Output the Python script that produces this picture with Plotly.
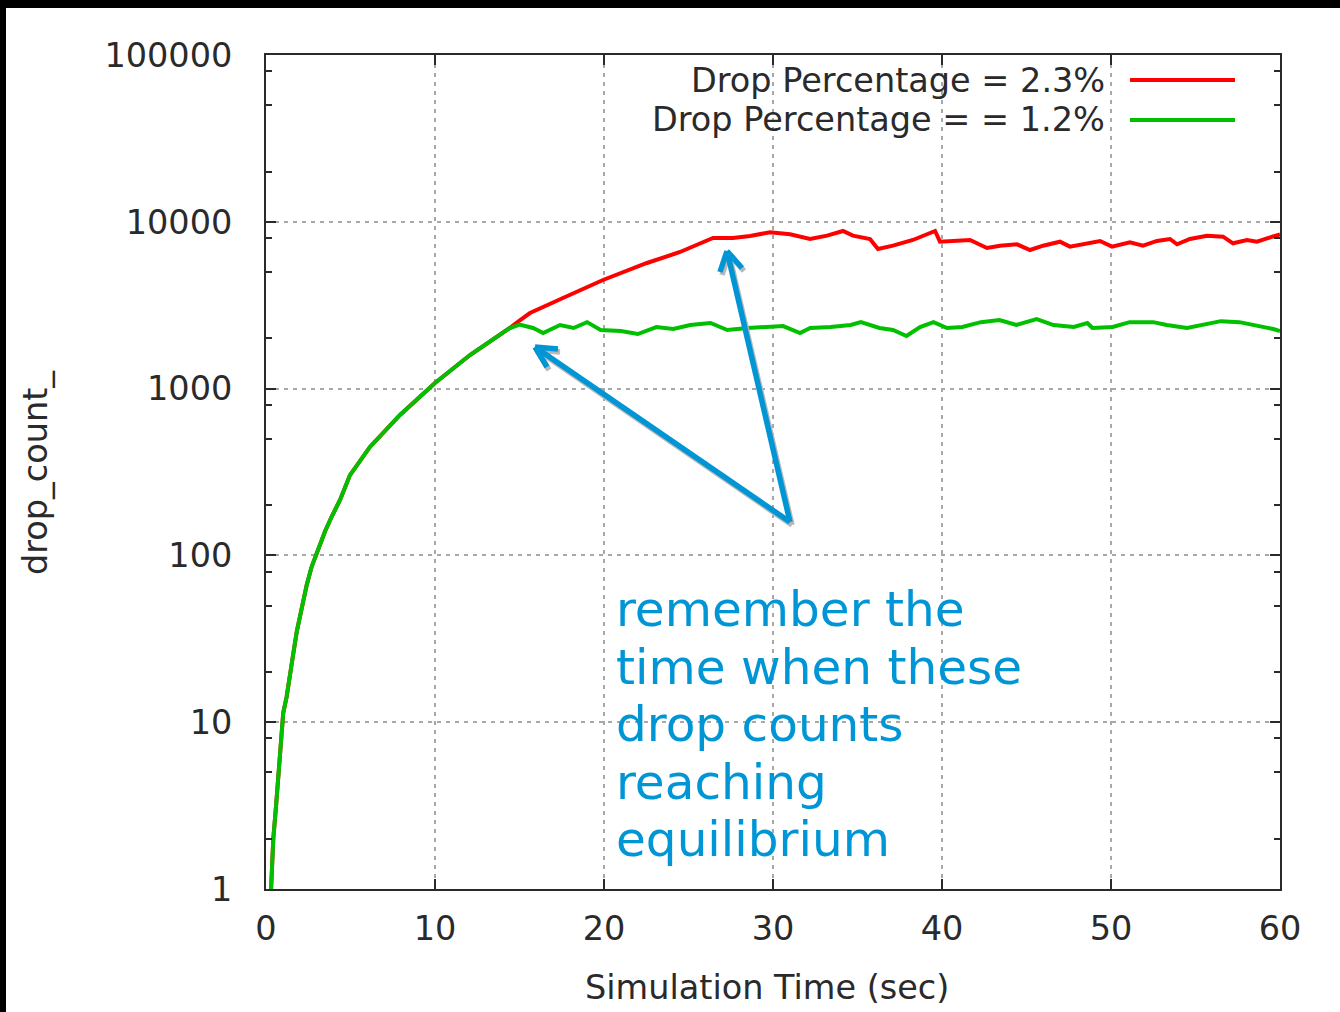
import plotly.graph_objects as go

# ---------------- data ----------------
# shared start: both runs are identical until ~14.4 s
rise_t = [0.3, 0.43, 0.59, 0.73, 0.87, 1.02, 1.22, 1.38, 1.62, 1.82, 2.11, 2.41,
          2.70, 3.09, 3.49, 3.89, 4.38, 4.97, 6.15, 7.93, 10.0, 12.07, 13.85, 14.4]
rise_v = [1.0, 2.0, 3.1, 5.0, 7.1, 11.4, 14.2, 18.7, 26.0, 34.9, 49.2, 66.5,
          85.5, 110, 139, 171, 215, 303, 447, 695, 1080, 1590, 2095, 2300]

red_t = [15.0, 15.62, 17.57, 19.94, 22.54, 24.50, 26.45, 26.86, 27.63, 28.64,
         29.82, 31.01, 32.19, 33.20, 34.14, 34.73, 35.74, 36.21, 37.10, 38.28,
         39.59, 39.88, 41.07, 41.66, 42.66, 43.43, 44.44, 45.21, 45.98, 46.98,
         47.57, 48.76, 49.35, 50.06, 51.12, 51.89, 52.72, 53.49, 53.91, 54.67,
         55.68, 56.63, 57.22, 58.05, 58.64, 59.23, 59.88, 60.0]
red_v = [2560, 2839, 3493, 4478, 5662, 6591, 7998, 8030, 7998, 8222,
         8650, 8413, 7888, 8257, 8810, 8257, 7888, 6871, 7192, 7780,
         8810, 7600, 7675, 7780, 6966, 7192, 7330, 6776, 7192, 7600,
         7095, 7431, 7675, 7095, 7534, 7192, 7675, 7888, 7330, 7888,
         8257, 8142, 7431, 7780, 7600, 7962, 8413, 8400]

green_t = [15.0, 15.8, 16.4, 17.4, 18.2, 19.0, 19.8, 21.0, 22.0, 23.1, 24.1,
           25.1, 26.3, 27.3, 28.5, 29.6, 30.6, 31.6, 32.2, 33.4, 34.6, 35.2,
           36.3, 37.1, 37.9, 38.7, 39.5, 40.3, 41.2, 42.3, 43.4, 44.4, 45.6,
           46.6, 47.8, 48.6, 48.9, 50.1, 51.1, 52.5, 53.3, 54.5, 55.3, 56.5,
           57.6, 58.8, 59.6, 60.0]
green_v = [2420, 2308, 2154, 2405, 2308, 2503, 2245, 2214, 2125, 2340, 2276,
           2405, 2473, 2245, 2308, 2340, 2371, 2154, 2308, 2340, 2405, 2503,
           2308, 2245, 2067, 2340, 2503, 2308, 2340, 2503, 2578, 2405, 2608,
           2405, 2340, 2473, 2308, 2340, 2503, 2503, 2405, 2308, 2405, 2537,
           2503, 2371, 2276, 2214]

series_names = ["Drop Percentage = 2.3%", "Drop Percentage = = 1.2%"]
series_colors = ["#ff0000", "#00c000"]

x_ticks = [0, 10, 20, 30, 40, 50, 60]
y_ticks = [1, 10, 100, 1000, 10000, 100000]
y_ticktext = ["1", "10", "100", "1000", "10000", "100000"]
y_minor = [2, 5, 8, 20, 50, 80, 200, 500, 800, 2000, 5000, 8000, 20000, 50000, 80000]

note_lines = ["remember the", "time when these", "drop counts", "reaching", "equilibrium"]

# ---------------- layout helpers (pixel -> paper) ----------------
L, R, T, B = 266, 1280, 55, 889
W, H = 1340, 1012
def PX(px):
    return (px - L) / (R - L)
def PY(py):
    return (B - py) / (B - T)

FONT = "DejaVu Sans"
TXT = "#2a2a2a"
BLUE = "#0096d6"
FS = 33.5

fig = go.Figure()
fig.add_trace(go.Scatter(x=rise_t + red_t, y=rise_v + red_v, mode="lines",
                         name=series_names[0], showlegend=False,
                         line=dict(color=series_colors[0], width=4)))
fig.add_trace(go.Scatter(x=rise_t + green_t, y=rise_v + green_v, mode="lines",
                         name=series_names[1], showlegend=False,
                         line=dict(color=series_colors[1], width=4)))

shapes = []
annotations = []

# key box (hides grid behind the key, like gnuplot)
shapes.append(dict(type="rect", xref="paper", yref="paper", layer="between",
                   x0=PX(590), x1=PX(1245), y0=PY(140), y1=PY(62),
                   fillcolor="white", line=dict(width=0)))
# custom key: text then sample line on its right
for i, (nm, col) in enumerate(zip(series_names, series_colors)):
    yy = 80 + 40 * i
    annotations.append(dict(xref="paper", yref="paper", x=PX(1107), y=PY(yy),
                            xanchor="right", yanchor="middle", showarrow=False,
                            text=nm, font=dict(family=FONT, size=FS, color=TXT)))
    shapes.append(dict(type="line", xref="paper", yref="paper", layer="above",
                       x0=PX(1130), x1=PX(1235), y0=PY(yy), y1=PY(yy),
                       line=dict(color=col, width=4)))

# arrows (shadow first, then blue)
tail = (790, 522)
arrows = [
    [(tail, (535, 347)), ((535, 347), (558, 349)), ((535, 347), (547, 367))],
    [(tail, (727, 251)), ((727, 251), (720, 272)), ((727, 251), (742, 268))],
]
for col, dx, dy in [("#b8b8b8", 2, 3), (BLUE, 0, 0)]:
    for arr in arrows:
        for (a, b) in arr:
            shapes.append(dict(type="line", xref="paper", yref="paper", layer="above",
                               x0=PX(a[0] + dx), y0=PY(a[1] + dy),
                               x1=PX(b[0] + dx), y1=PY(b[1] + dy),
                               line=dict(color=col, width=5.5)))

# note text
for i, line in enumerate(note_lines):
    annotations.append(dict(xref="paper", yref="paper", x=PX(614), y=PY(609 + 57.5 * i),
                            xanchor="left", yanchor="middle", showarrow=False,
                            text=line, font=dict(family=FONT, size=48.5, color=BLUE)))

# axis titles
annotations.append(dict(xref="paper", yref="paper", x=PX(767), y=PY(987),
                        xanchor="center", yanchor="middle", showarrow=False,
                        text="Simulation Time (sec)",
                        font=dict(family=FONT, size=FS, color=TXT)))
annotations.append(dict(xref="paper", yref="paper", x=PX(35), y=PY(473),
                        xanchor="center", yanchor="middle", showarrow=False,
                        textangle=-90, text="drop_count_",
                        font=dict(family=FONT, size=FS, color=TXT)))

# black frame bands of the screenshot
shapes.append(dict(type="rect", xref="paper", yref="paper", layer="above",
                   x0=PX(0), x1=PX(W), y0=PY(8), y1=PY(0),
                   fillcolor="black", line=dict(width=0)))
shapes.append(dict(type="rect", xref="paper", yref="paper", layer="above",
                   x0=PX(0), x1=PX(6), y0=PY(H), y1=PY(0),
                   fillcolor="black", line=dict(width=0)))

fig.update_layout(
    width=W, height=H,
    margin=dict(l=L, r=W - R, t=T, b=H - B, pad=0),
    paper_bgcolor="white", plot_bgcolor="white",
    font=dict(family=FONT, size=FS, color=TXT),
    shapes=shapes, annotations=annotations, showlegend=False,
)
grid = dict(showgrid=True, gridcolor="#a8a8a8", griddash="4px,5px", gridwidth=1.5)
fig.update_xaxes(range=[0, 60], tickmode="array", tickvals=x_ticks,
                 ticks="inside", ticklen=10, tickwidth=1.5, tickcolor=TXT,
                 mirror="allticks", showline=True, linecolor=TXT, linewidth=2,
                 zeroline=False, ticklabelstandoff=9,
                 tickfont=dict(family=FONT, size=FS, color=TXT), **grid)
fig.update_yaxes(type="log", range=[0, 5], tickmode="array", tickvals=y_ticks,
                 ticktext=y_ticktext, ticks="inside", ticklen=10, tickwidth=1.5,
                 tickcolor=TXT, mirror="allticks", showline=True, linecolor=TXT,
                 linewidth=2, zeroline=False, ticklabelstandoff=25,
                 tickfont=dict(family=FONT, size=FS, color=TXT),
                 minor=dict(tickmode="array", tickvals=y_minor, ticks="inside",
                            ticklen=6, tickwidth=1.5, tickcolor=TXT, showgrid=False),
                 **grid)

fig.write_html("out.html")
